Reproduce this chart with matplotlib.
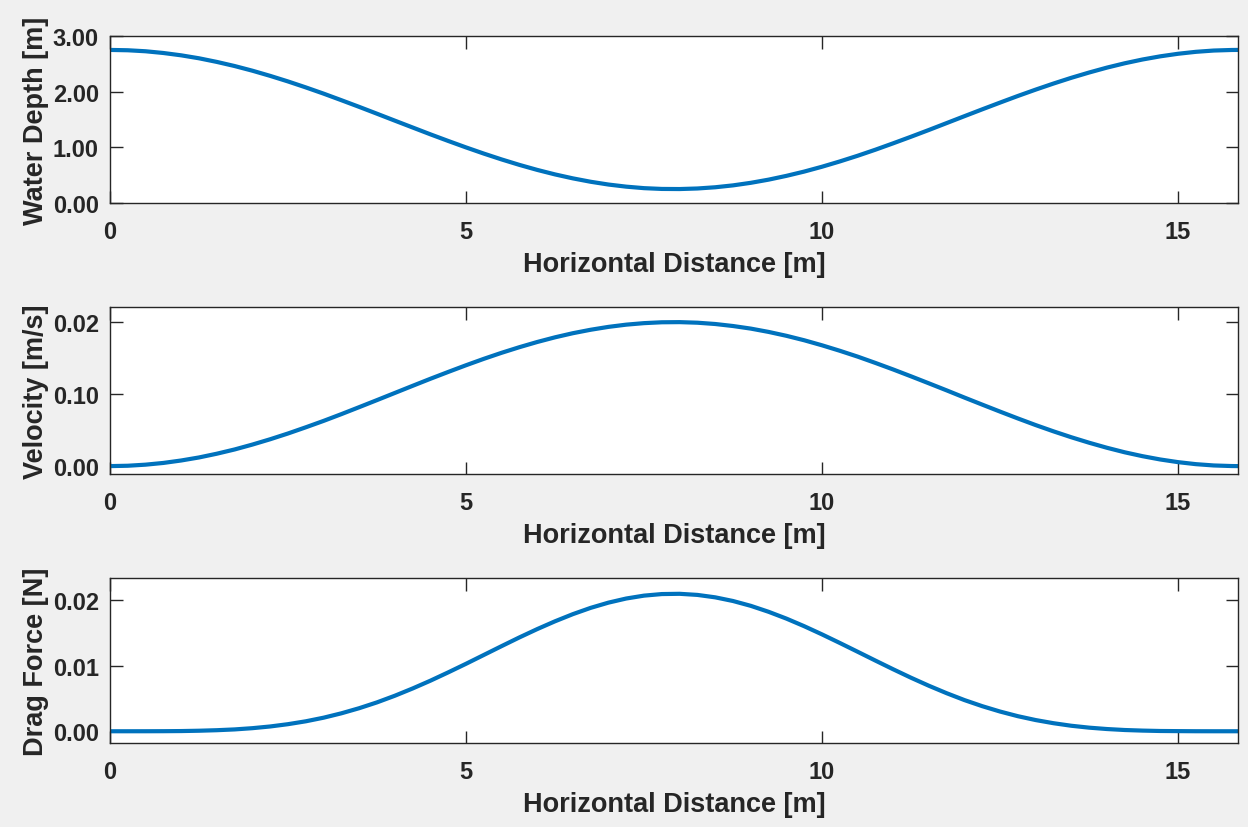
import matplotlib.pyplot as plt

# values, every 0.25 m
distance = [0.0, 0.25, 0.5, 0.75, 1.0, 1.25, 1.5, 1.75, 2.0, 2.25, 2.5, 2.75, 3.0, 3.25, 3.5, 3.75,
            4.0, 4.25, 4.5, 4.75, 5.0, 5.25, 5.5, 5.75, 6.0, 6.25, 6.5, 6.75, 7.0, 7.25, 7.5, 7.75,
            8.0, 8.25, 8.5, 8.75, 9.0, 9.25, 9.5, 9.75, 10.0, 10.25, 10.5, 10.75, 11.0, 11.25,
            11.5, 11.75, 12.0, 12.25, 12.5, 12.75, 13.0, 13.25, 13.5, 13.75, 14.0, 14.25, 14.5,
            14.75, 15.0, 15.25, 15.5, 15.75, 15.84]
water_depth = [2.750, 2.744, 2.726, 2.695, 2.653, 2.600, 2.535, 2.461, 2.377, 2.284, 2.184,
               2.077, 1.965, 1.847, 1.727, 1.604, 1.480, 1.357, 1.234, 1.115, 0.999, 0.888,
               0.783, 0.685, 0.595, 0.514, 0.443, 0.382, 0.332, 0.294, 0.267, 0.253, 0.251,
               0.261, 0.283, 0.317, 0.363, 0.420, 0.488, 0.565, 0.652, 0.747, 0.849, 0.958,
               1.073, 1.191, 1.312, 1.436, 1.560, 1.683, 1.804, 1.923, 2.037, 2.146, 2.249,
               2.344, 2.432, 2.510, 2.578, 2.635, 2.681, 2.716, 2.739, 2.749, 2.750]
velocity = [0.00000, 0.00005, 0.00020, 0.00044, 0.00078, 0.00120, 0.00172, 0.00231, 0.00299,
            0.00373, 0.00453, 0.00539, 0.00628, 0.00722, 0.00819, 0.00917, 0.01016, 0.01115,
            0.01213, 0.01308, 0.01401, 0.01490, 0.01574, 0.01652, 0.01724, 0.01789, 0.01846,
            0.01894, 0.01934, 0.01965, 0.01986, 0.01998, 0.02000, 0.01992, 0.01974, 0.01946,
            0.01910, 0.01864, 0.01810, 0.01748, 0.01678, 0.01602, 0.01521, 0.01433, 0.01342,
            0.01247, 0.01150, 0.01052, 0.00952, 0.00854, 0.00757, 0.00662, 0.00570, 0.00483,
            0.00401, 0.00325, 0.00255, 0.00192, 0.00138, 0.00092, 0.00055, 0.00027, 0.00009,
            0.00001, 0.00000]
drag_force = [0.0, 0.0, 0.000002, 0.00001, 0.00003, 0.00008, 0.00016, 0.00028, 0.00047, 0.00073,
              0.00108, 0.00152, 0.00207, 0.00274, 0.00352, 0.00441, 0.00542, 0.00653, 0.00772,
              0.00899, 0.01030, 0.01165, 0.01300, 0.01433, 0.01560, 0.01679, 0.01788, 0.01884,
              0.01964, 0.02027, 0.02071, 0.02095, 0.02099, 0.02082, 0.02045, 0.01989, 0.01915,
              0.01824, 0.01720, 0.01604, 0.01479, 0.01348, 0.01214, 0.01079, 0.00946, 0.00817,
              0.00695, 0.00581, 0.00476, 0.00383, 0.00301, 0.00230, 0.00171, 0.00123, 0.00084,
              0.00055, 0.00034, 0.00019, 0.00010, 0.00004, 0.00002, 0.000004, 0.0, 0.0, 0.0]

x_ticks = [0, 5, 10, 15]
depth_ticks = [0, 1, 2, 3]
depth_labels = ["0.00", "1.00", "2.00", "3.00"]
vel_ticks = [0, 0.01, 0.02]
vel_labels = ["0.00", "0.10", "0.02"]
drag_ticks = [0, 0.01, 0.02]
drag_labels = ["0.00", "0.01", "0.02"]

plt.rcParams["font.family"] = ["Liberation Sans", "DejaVu Sans"]
plt.rcParams["font.weight"] = "bold"
dark = "#262626"

fig = plt.figure(figsize=(12.48, 8.28), dpi=100, facecolor="#f0f0f0")

panels = [
    ([0.0881, 0.7536, 0.9038, 0.2017], water_depth, "Water Depth [m]", (0, 3.0), depth_ticks, depth_labels),
    ([0.0881, 0.4263, 0.9038, 0.2017], velocity, "Velocity [m/s]", (-0.0011, 0.0221), vel_ticks, vel_labels),
    ([0.0881, 0.1014, 0.9038, 0.1993], drag_force, "Drag Force [N]", (-0.0018, 0.0234), drag_ticks, drag_labels),
]

for rect, values, ylab, ylim, yt, ytl in panels:
    ax = fig.add_axes(rect)
    ax.plot(distance, values, color="#0072BD", linewidth=3.0, solid_joinstyle="round")
    ax.set_xlim(0, 15.84)
    ax.set_ylim(*ylim)
    ax.set_xticks(x_ticks)
    ax.set_yticks(yt)
    ax.set_yticklabels(ytl)
    ax.set_xlabel("Horizontal Distance [m]", fontsize=19.5, fontweight="bold", color=dark, labelpad=6)
    ax.set_ylabel(ylab, fontsize=19.5, fontweight="bold", color=dark, labelpad=3)
    ax.tick_params(direction="in", top=True, right=True, length=9, width=1, colors=dark,
                   labelsize=17)
    ax.tick_params(axis="x", pad=12)
    ax.tick_params(axis="y", pad=8)
    for s in ax.spines.values():
        s.set_color(dark)
        s.set_linewidth(1.0)

fig.savefig("out.png", dpi=100, facecolor=fig.get_facecolor())
